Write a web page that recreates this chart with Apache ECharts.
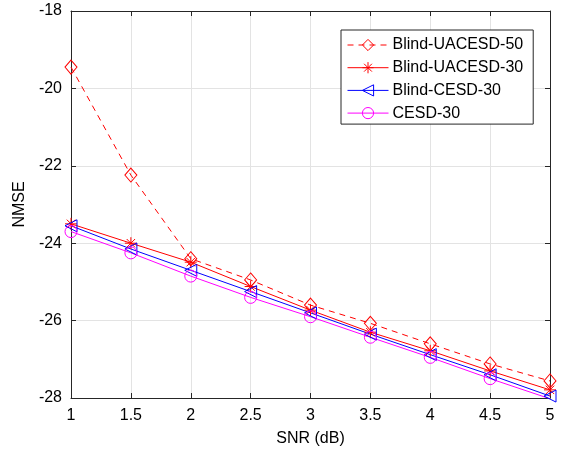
<!DOCTYPE html>
<html>
<head>
<meta charset="utf-8">
<script src="https://cdn.jsdelivr.net/npm/echarts@6/dist/echarts.min.js"></script>
<style>
html, body { margin: 0; padding: 0; background: #fff; }
#main { width: 562px; height: 457px; }
</style>
</head>
<body>
<div id="main"></div>
<script>
// data
var snr = [1, 1.5, 2, 2.5, 3, 3.5, 4, 4.5, 5]
var blindUacesd50 = [-19.45, -22.24, -24.4, -24.95, -25.6, -26.07, -26.6, -27.12, -27.56]
var blindUacesd30 = [-23.5, -24.0, -24.49, -25.12, -25.73, -26.3, -26.78, -27.3, -27.79]
var blindCesd30 = [-23.55, -24.15, -24.7, -25.25, -25.8, -26.35, -26.88, -27.4, -27.95]
var cesd30 = [-23.7, -24.25, -24.85, -25.4, -25.9, -26.43, -26.95, -27.5, -28.02]

var font = 'Liberation Sans, Arial, Helvetica, sans-serif'
var axisColor = '#262626'

var pairs = ys => snr.map((x, i) => [x, ys[i]])

var starPath = 'path://M5,0 L5,10 M0,5 L10,5 M1.5,1.5 L8.5,8.5 M8.5,1.5 L1.5,8.5'
var leftTri = 'path://M0,5 L10,0 L10,10 Z'

var mkSeries = (name, ys, color, symbol, size, dashed) => ({
	name: name,
	type: 'line',
	data: pairs(ys),
	color: color,
	symbol: symbol,
	symbolSize: size,
	showSymbol: true,
	lineStyle: { color: color, width: 1, type: dashed ? [6, 5] : 'solid' },
	itemStyle: { color: 'transparent', borderColor: color, borderWidth: 1 },
	emphasis: { disabled: true },
	z: 3
})

var chart = echarts.init(document.getElementById('main'), null, { renderer: 'canvas' })

var baseX = {
	type: 'value', min: 1, max: 5, interval: 0.5,
	axisLine: { show: true, onZero: false, lineStyle: { color: axisColor, width: 1 } },
	axisTick: { show: true, inside: true, length: 5, lineStyle: { color: axisColor } },
	splitLine: { show: false }
}
var baseY = {
	type: 'value', min: -28, max: -18, interval: 2,
	axisLine: { show: true, onZero: false, lineStyle: { color: axisColor, width: 1 } },
	axisTick: { show: true, inside: true, length: 5, lineStyle: { color: axisColor } },
	splitLine: { show: false }
}

chart.setOption({
	animation: false,
	backgroundColor: '#fff',
	grid: { left: 71, top: 11, right: 12, bottom: 59, show: false },
	legend: {
		left: 341, top: 30, orient: 'vertical',
		itemWidth: 41, itemHeight: 14, itemGap: 6.7,
		padding: [7, 10, 3, 6],
		backgroundColor: '#fff',
		borderColor: axisColor, borderWidth: 1,
		lineStyle: { width: 1 },
		itemStyle: { borderWidth: 1 },
		textStyle: { fontFamily: font, fontSize: 16, color: '#000', padding: [0, 0, 0, -1] },
		data: ['Blind-UACESD-50', 'Blind-UACESD-30', 'Blind-CESD-30', 'CESD-30']
	},
	xAxis: [
		Object.assign({}, baseX, {
			position: 'bottom',
			name: 'SNR (dB)', nameLocation: 'middle', nameGap: 33,
			nameTextStyle: { fontFamily: font, fontSize: 16, color: '#000' },
			axisLabel: { fontFamily: font, fontSize: 16, color: '#000', margin: 10 },
			splitLine: { show: true, lineStyle: { color: '#e3e3e3', width: 1 } }
		}),
		Object.assign({}, baseX, { position: 'top', axisLabel: { show: false } })
	],
	yAxis: [
		Object.assign({}, baseY, {
			position: 'left',
			name: 'NMSE', nameLocation: 'middle', nameGap: 43,
			nameTextStyle: { fontFamily: font, fontSize: 16, color: '#000' },
			axisLabel: { fontFamily: font, fontSize: 16, color: '#000', margin: 9 },
			splitLine: { show: true, lineStyle: { color: '#e3e3e3', width: 1 } }
		}),
		Object.assign({}, baseY, { position: 'right', axisLabel: { show: false } })
	],
	series: [
		mkSeries('Blind-UACESD-50', blindUacesd50, '#ff0000', 'diamond', [12, 14], true),
		mkSeries('Blind-UACESD-30', blindUacesd30, '#ff0000', starPath, 12, false),
		mkSeries('Blind-CESD-30', blindCesd30, '#0000ff', leftTri, 12, false),
		mkSeries('CESD-30', cesd30, '#ff00ff', 'circle', 12, false)
	]
})
</script>
</body>
</html>
